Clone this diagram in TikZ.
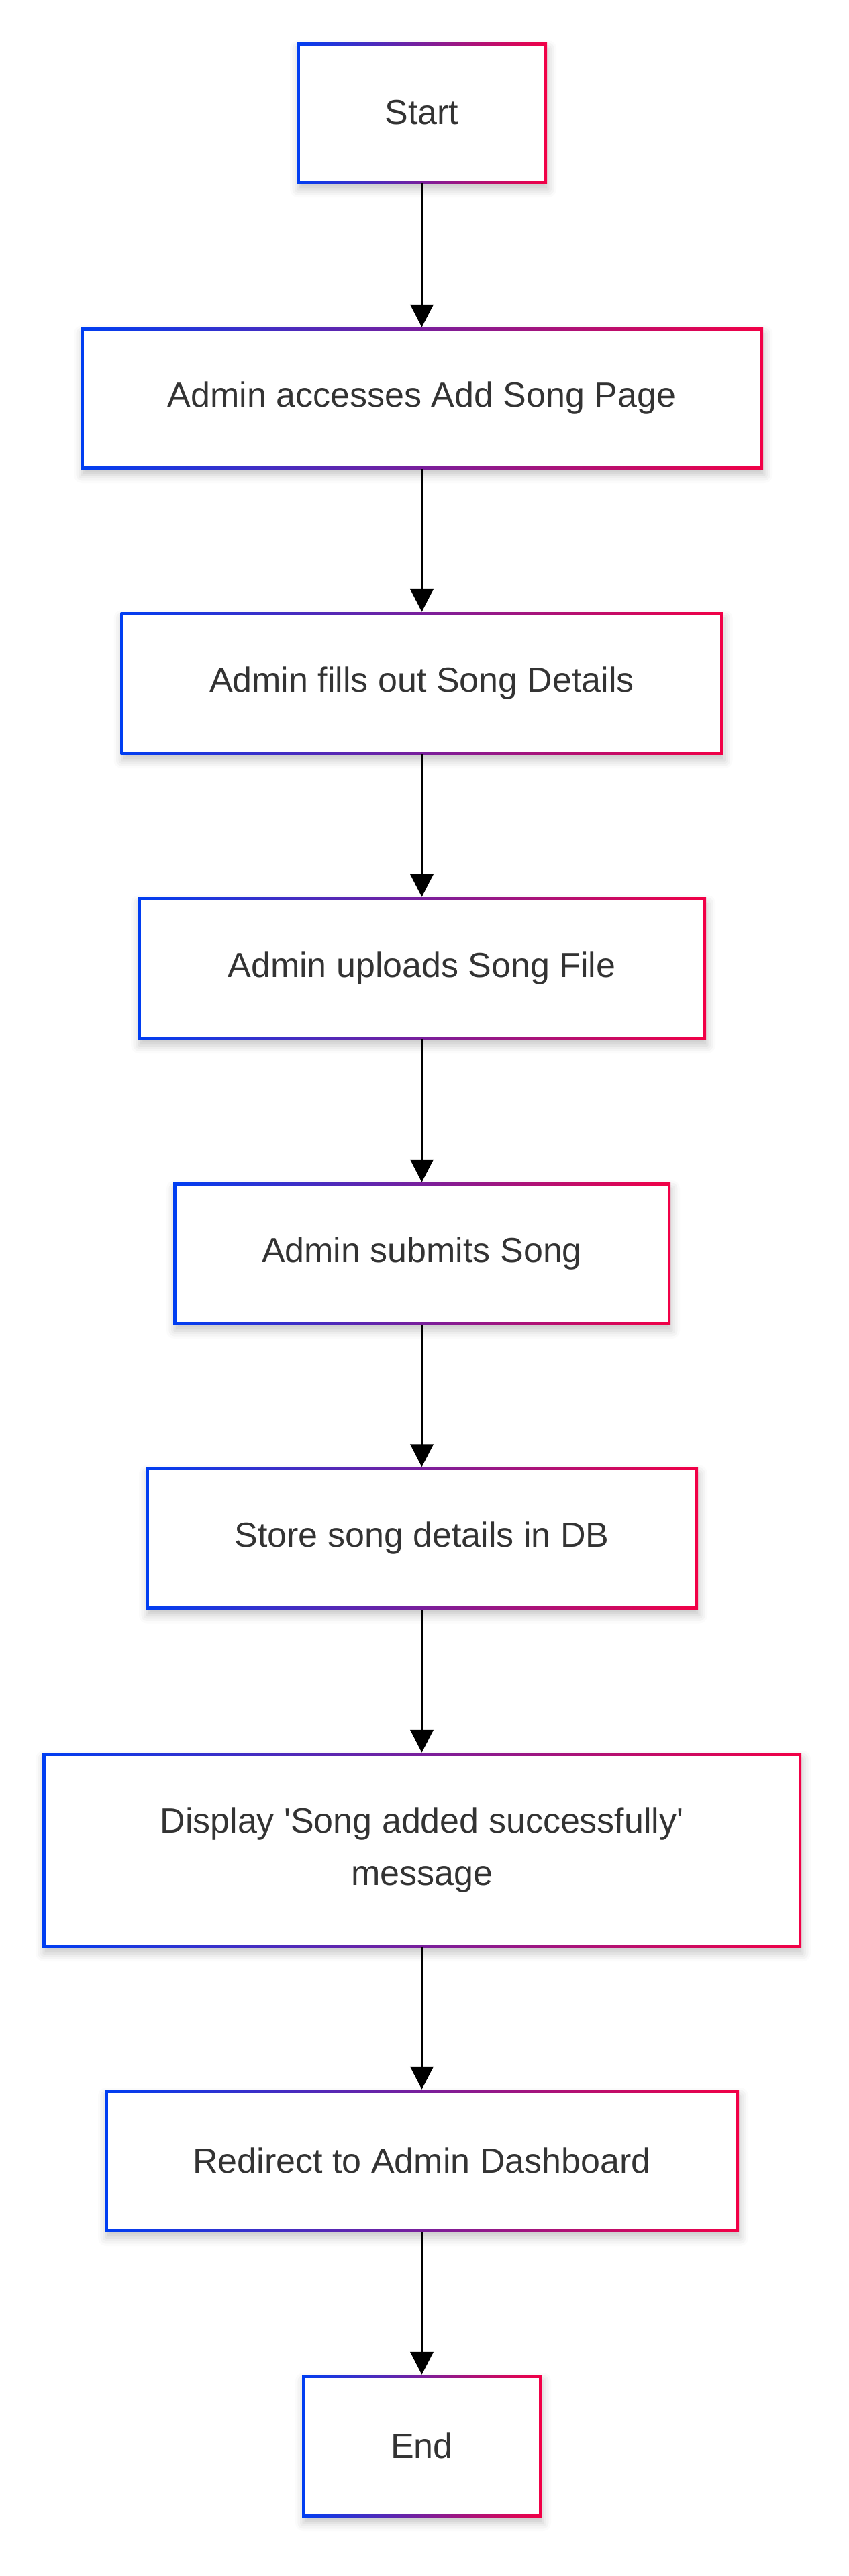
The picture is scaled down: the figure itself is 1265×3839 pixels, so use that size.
\documentclass[tikz,border=0pt]{standalone}
\usepackage{fontspec}
\setmainfont{Liberation Sans}
\newfontfamily\boxfont{Liberation Sans}
\usetikzlibrary{arrows.meta,shadows.blur}
\definecolor{gblue}{RGB}{0,62,242}
\definecolor{gred}{RGB}{242,0,70}
\definecolor{txt}{RGB}{51,51,51}
\tikzset{
  stepbox/.style={rectangle, inner sep=0pt, align=center,
    left color=gblue, right color=gred,
    blur shadow={shadow xshift=2pt, shadow yshift=-9pt, shadow blur radius=12pt, shadow opacity=22},
    path picture={\fill[white] ([shift={(4.5pt,4.5pt)}]path picture bounding box.south west) rectangle ([shift={(-4.5pt,-4.5pt)}]path picture bounding box.north east);},
    text=txt, font=\boxfont\fontsize{52pt}{78pt}\selectfont},
  flowarrow/.style={line width=4pt, draw=black, -{Triangle[length=34pt,width=34pt]}}
}
\begin{document}
\begin{tikzpicture}[x=1pt,y=-1pt]
\useasboundingbox (0,0) rectangle (1265,3839);
\node[stepbox, minimum width=373pt, minimum height=210pt] (n1) at (628.5,168) {Start};
\node[stepbox, minimum width=1017pt, minimum height=211pt] (n2) at (628.5,593.5) {Admin accesses Add Song Page};
\node[stepbox, minimum width=898pt, minimum height=212pt] (n3) at (628.5,1018) {Admin fills out Song Details};
\node[stepbox, minimum width=847pt, minimum height=212pt] (n4) at (628.5,1443) {Admin uploads Song File};
\node[stepbox, minimum width=741pt, minimum height=212pt] (n5) at (628.5,1868) {Admin submits Song};
\node[stepbox, minimum width=823pt, minimum height=212pt] (n6) at (628.5,2292.5) {Store song details in DB};
\node[stepbox, minimum width=1131pt, minimum height=290pt] (n7) at (628.5,2757) {Display 'Song added successfully'\\message};
\node[stepbox, minimum width=945pt, minimum height=212pt] (n8) at (628.5,3220) {Redirect to Admin Dashboard};
\node[stepbox, minimum width=357pt, minimum height=212pt] (n9) at (628.5,3645) {End};
\draw[flowarrow] (n1.south) -- (n2.north);
\draw[flowarrow] (n2.south) -- (n3.north);
\draw[flowarrow] (n3.south) -- (n4.north);
\draw[flowarrow] (n4.south) -- (n5.north);
\draw[flowarrow] (n5.south) -- (n6.north);
\draw[flowarrow] (n6.south) -- (n7.north);
\draw[flowarrow] (n7.south) -- (n8.north);
\draw[flowarrow] (n8.south) -- (n9.north);
\end{tikzpicture}
\end{document}
